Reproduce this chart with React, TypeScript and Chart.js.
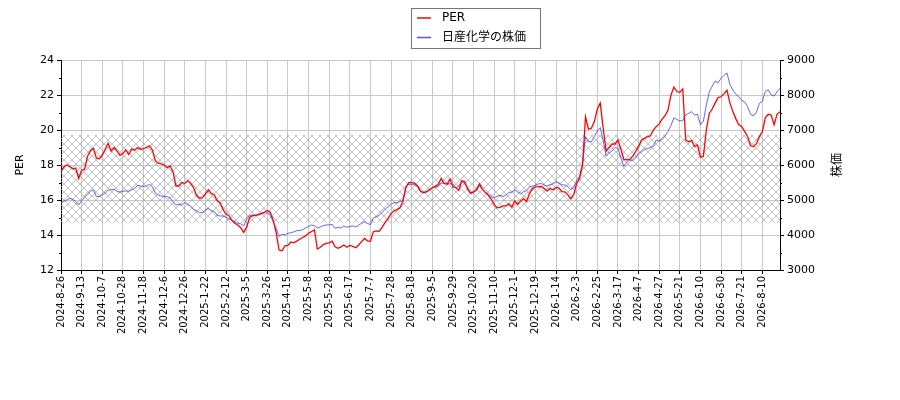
import React, { useEffect, useRef } from 'react';
import Chart from 'chart.js/auto';

// tick dates on the x axis, one every 7 samples
const tickDates = [
  '2024-8-26', '2024-9-13', '2024-10-7', '2024-10-28', '2024-11-18', '2024-12-6', '2024-12-26',
  '2025-1-22', '2025-2-12', '2025-3-5', '2025-3-26', '2025-4-15', '2025-5-8', '2025-5-28',
  '2025-6-17', '2025-7-7', '2025-7-28', '2025-8-18', '2025-9-5', '2025-9-29', '2025-10-20',
  '2025-11-10', '2025-12-1', '2025-12-19', '2026-1-14', '2026-2-3', '2026-2-25', '2026-3-17',
  '2026-4-7', '2026-4-27', '2026-5-21', '2026-6-10', '2026-6-30', '2026-7-21', '2026-8-10',
];

const perValues = [
  17.62, 17.9, 18.0, 17.9, 17.78, 17.82, 17.24,
  17.7, 17.75, 18.5, 18.8, 18.95, 18.4, 18.35,
  18.55, 18.9, 19.24, 18.8, 19.0, 18.8, 18.55,
  18.65, 18.86, 18.6, 18.9, 18.86, 19.0, 18.9,
  18.93, 19.0, 19.1, 18.85, 18.25, 18.1, 18.06,
  18.0, 17.85, 17.95, 17.62, 16.8, 16.8, 17.0,
  16.95, 17.1, 16.95, 16.7, 16.27, 16.1, 16.13,
  16.35, 16.58, 16.38, 16.3, 15.95, 15.85, 15.45,
  15.2, 15.1, 14.84, 14.67, 14.57, 14.42, 14.15,
  14.45, 15.0, 15.1, 15.12, 15.17, 15.24, 15.3,
  15.4, 15.3, 14.85, 14.15, 13.14, 13.1, 13.38,
  13.4, 13.6, 13.55, 13.65, 13.76, 13.86, 13.95,
  14.1, 14.19, 14.3, 13.2, 13.3, 13.45, 13.52,
  13.55, 13.65, 13.33, 13.24, 13.32, 13.43, 13.3,
  13.4, 13.35, 13.27, 13.43, 13.62, 13.8, 13.67,
  13.64, 14.19, 14.24, 14.21, 14.45, 14.72, 14.95,
  15.22, 15.38, 15.45, 15.55, 15.9, 16.7, 16.99,
  16.99, 16.95, 16.8, 16.5, 16.43, 16.47, 16.58,
  16.7, 16.78, 16.9, 17.22, 16.95, 16.9, 17.2,
  16.76, 16.7, 16.55, 17.1, 17.05, 16.62, 16.38,
  16.45, 16.6, 16.92, 16.62, 16.42, 16.27, 16.05,
  15.75, 15.55, 15.58, 15.66, 15.66, 15.78, 15.6,
  15.95, 15.75, 15.95, 16.08, 15.9, 16.38, 16.64,
  16.75, 16.76, 16.78, 16.65, 16.52, 16.66, 16.58,
  16.72, 16.68, 16.48, 16.47, 16.29, 16.06, 16.3,
  16.95, 17.24, 18.0, 20.75, 20.05, 20.1, 20.48,
  21.2, 21.54, 20.1, 18.8, 19.0, 19.2, 19.2,
  19.43, 18.9, 18.32, 18.3, 18.32, 18.5, 18.76,
  19.05, 19.43, 19.52, 19.62, 19.66, 20.0, 20.19,
  20.35, 20.62, 20.82, 21.14, 22.0, 22.45, 22.2,
  22.15, 22.35, 19.43, 19.33, 19.4, 19.05, 19.14,
  18.45, 18.5, 20.0, 20.95, 21.2, 21.55, 21.85,
  21.9, 22.08, 22.28, 21.55, 21.05, 20.65, 20.3,
  20.2, 19.92, 19.63, 19.1, 19.05, 19.22, 19.62,
  19.9, 20.7, 20.9, 20.86, 20.3, 20.9, 21.05,
];

const priceValues = [
  4905, 4960, 5000, 5048, 5020, 4960, 4857,
  4980, 5076, 5170, 5250, 5290, 5095, 5100,
  5150, 5200, 5286, 5290, 5305, 5250, 5220,
  5250, 5260, 5250, 5290, 5333, 5420, 5400,
  5390, 5400, 5450, 5380, 5200, 5140, 5115,
  5095, 5095, 5060, 4950, 4860, 4870, 4860,
  4924, 4870, 4820, 4740, 4690, 4640, 4640,
  4720, 4760, 4695, 4670, 4560, 4543, 4543,
  4510, 4460, 4420, 4381, 4333, 4320, 4260,
  4450, 4560, 4571, 4571, 4575, 4600, 4630,
  4630, 4560, 4380, 4200, 3960, 4020, 4000,
  4048, 4065, 4090, 4125, 4130, 4150, 4200,
  4245, 4286, 4260, 4200, 4230, 4270, 4286,
  4290, 4305, 4190, 4219, 4200, 4260, 4220,
  4240, 4260, 4230, 4280, 4333, 4380, 4330,
  4295, 4480, 4520, 4560, 4650, 4740, 4800,
  4880, 4924, 4924, 4952, 4980, 5350, 5448,
  5448, 5430, 5380, 5240, 5210, 5230, 5290,
  5350, 5375, 5380, 5490, 5476, 5476, 5460,
  5457, 5350, 5400, 5540, 5480, 5340, 5210,
  5230, 5270, 5410, 5300, 5230, 5170, 5095,
  5060, 5110, 5135, 5100, 5140, 5220, 5225,
  5290, 5230, 5170, 5240, 5265, 5381, 5398,
  5420, 5460, 5470, 5420, 5400, 5440, 5460,
  5524, 5480, 5430, 5429, 5380, 5300, 5350,
  5560, 5680, 6050, 6810, 6660, 6667, 6810,
  6980, 7070, 6700, 6250, 6350, 6400, 6500,
  6476, 6200, 5960, 6080, 6140, 6130, 6200,
  6320, 6380, 6448, 6470, 6500, 6550, 6714,
  6680, 6730, 6830, 6960, 7130, 7350, 7300,
  7260, 7270, 7429, 7476, 7524, 7429, 7450,
  7150, 7250, 7714, 8080, 8250, 8400, 8350,
  8476, 8560, 8630, 8300, 8143, 8020, 7950,
  7850, 7800, 7670, 7450, 7400, 7510, 7762,
  7820, 8100, 8150, 8000, 7970, 8095, 8190,
];

// hatched PER band
const bandLow = 14.68;
const bandHigh = 19.72;

const TICK_EVERY = 7;

const hatchPlugin = {
  id: 'hatchBand',
  beforeDatasetsDraw(chart: any) {
    const { ctx, chartArea } = chart;
    const y = chart.scales.y;
    const tile = document.createElement('canvas');
    tile.width = 8;
    tile.height = 8;
    const t = tile.getContext('2d');
    if (!t) return;
    t.strokeStyle = '#a8a8a8';
    t.lineWidth = 0.7;
    t.beginPath();
    t.moveTo(-1, -1);
    t.lineTo(9, 9);
    t.moveTo(9, -1);
    t.lineTo(-1, 9);
    t.stroke();
    const pattern = ctx.createPattern(tile, 'repeat');
    const top = y.getPixelForValue(bandHigh);
    const bottom = y.getPixelForValue(bandLow);
    ctx.save();
    ctx.fillStyle = pattern;
    ctx.fillRect(chartArea.left, top, chartArea.right - chartArea.left, bottom - top);
    ctx.restore();
  },
};

const extrasPlugin = {
  id: 'extras',
  afterDraw(chart: any) {
    const { ctx, chartArea } = chart;
    const y = chart.scales.y;
    const y1 = chart.scales.y1;
    ctx.save();
    ctx.strokeStyle = '#000';
    ctx.lineWidth = 1;
    // minor ticks
    for (let v = 13; v < 24; v += 2) {
      const py = Math.round(y.getPixelForValue(v)) + 0.5;
      ctx.beginPath();
      ctx.moveTo(chartArea.left - 2, py);
      ctx.lineTo(chartArea.left, py);
      ctx.stroke();
    }
    for (let v = 3500; v < 9000; v += 1000) {
      const py = Math.round(y1.getPixelForValue(v)) + 0.5;
      ctx.beginPath();
      ctx.moveTo(chartArea.right, py);
      ctx.lineTo(chartArea.right + 2, py);
      ctx.stroke();
    }

    // axis titles
    ctx.fillStyle = '#000';
    ctx.textAlign = 'center';
    ctx.textBaseline = 'middle';
    ctx.font = '11px "DejaVu Sans"';
    ctx.save();
    ctx.translate(20, 165);
    ctx.rotate(-Math.PI / 2);
    ctx.fillText('PER', 0, 0);
    ctx.restore();
    ctx.font = '12px "Noto Sans CJK JP"';
    ctx.save();
    ctx.translate(836, 165);
    ctx.rotate(-Math.PI / 2);
    ctx.fillText('株価', 0, 0);
    ctx.restore();

    // legend box
    ctx.fillStyle = '#fff';
    ctx.fillRect(411.5, 8.5, 129, 40);
    ctx.strokeStyle = '#777';
    ctx.strokeRect(411.5, 8.5, 129, 40);
    chart.data.datasets.forEach((ds: any, i: number) => {
      const ly = 18 + i * 19.5;
      ctx.strokeStyle = ds.borderColor;
      ctx.lineWidth = 1.5;
      ctx.beginPath();
      ctx.moveTo(417, ly);
      ctx.lineTo(431, ly);
      ctx.stroke();
      ctx.fillStyle = '#000';
      ctx.textAlign = 'left';
      ctx.font = '12px "DejaVu Sans", "Noto Sans CJK JP"';
      ctx.fillText(ds.label, 442, ly);
    });
    ctx.restore();
  },
};

const App = () => {
  const chartRef = useRef<HTMLCanvasElement | null>(null);
  const chartInstance = useRef<Chart | null>(null);

  useEffect(() => {
    if (chartInstance.current) {
      chartInstance.current.destroy();
    }
    if (!chartRef.current) return;
    const ctx = chartRef.current.getContext('2d');
    if (!ctx) return;

    const labels = perValues.map((_, i) =>
      i % TICK_EVERY === 0 && tickDates[i / TICK_EVERY] ? tickDates[i / TICK_EVERY] : ''
    );

    chartInstance.current = new Chart(ctx, {
      type: 'line',
      data: {
        labels,
        datasets: [
          {
            label: 'PER',
            data: perValues,
            borderColor: '#ff0000',
            borderWidth: 1.3,
            pointRadius: 0,
            yAxisID: 'y',
          },
          {
            label: '日産化学の株価',
            data: priceValues,
            borderColor: 'rgba(40, 40, 255, 0.8)',
            borderWidth: 0.9,
            pointRadius: 0,
            yAxisID: 'y1',
          },
        ],
      },
      options: {
        responsive: false,
        animation: false,
        layout: { padding: { top: 60, left: 0, right: 0, bottom: 0 } },
        plugins: {
          legend: { display: false },
          tooltip: { enabled: false },
        },
        scales: {
          x: {
            type: 'category',
            offset: false,
            afterFit: (scale: any) => {
              scale.height = 130;
            },
            afterBuildTicks: (scale: any) => {
              scale.ticks = scale.ticks.filter((t: any) => t.value % TICK_EVERY === 0);
            },
            grid: {
              color: '#c8c8c8',
              lineWidth: 1,
              tickLength: 4,
              tickColor: '#000',
            },
            border: { color: '#000', width: 1 },
            ticks: {
              autoSkip: false,
              minRotation: 90,
              maxRotation: 90,
              padding: 2,
              color: '#000',
              font: { family: '"DejaVu Sans"', size: 10 },
            },
          },
          y: {
            position: 'left',
            min: 12,
            max: 24,
            afterFit: (scale: any) => {
              scale.width = 61;
            },
            grid: {
              color: '#c8c8c8',
              lineWidth: 1,
              tickLength: 4,
              tickColor: '#000',
            },
            border: { color: '#000', width: 1 },
            ticks: {
              stepSize: 2,
              padding: 3,
              color: '#000',
              font: { family: '"DejaVu Sans"', size: 11 },
              callback: (v: any) => String(v),
            },
          },
          y1: {
            position: 'right',
            min: 3000,
            max: 9000,
            afterFit: (scale: any) => {
              scale.width = 120;
            },
            grid: {
              drawOnChartArea: false,
              tickLength: 4,
              tickColor: '#000',
            },
            border: { color: '#000', width: 1 },
            ticks: {
              stepSize: 1000,
              padding: 3,
              color: '#000',
              font: { family: '"DejaVu Sans"', size: 11 },
              callback: (v: any) => String(v),
            },
          },
        },
      },
      plugins: [hatchPlugin, extrasPlugin],
    });

    return () => {
      if (chartInstance.current) {
        chartInstance.current.destroy();
        chartInstance.current = null;
      }
    };
  }, []);

  return (
    <div style={{ position: 'fixed', left: 0, top: 0, width: 900, height: 400, background: '#fff' }}>
      <canvas ref={chartRef} width={900} height={400} style={{ display: 'block' }} />
    </div>
  );
};

export default App;
